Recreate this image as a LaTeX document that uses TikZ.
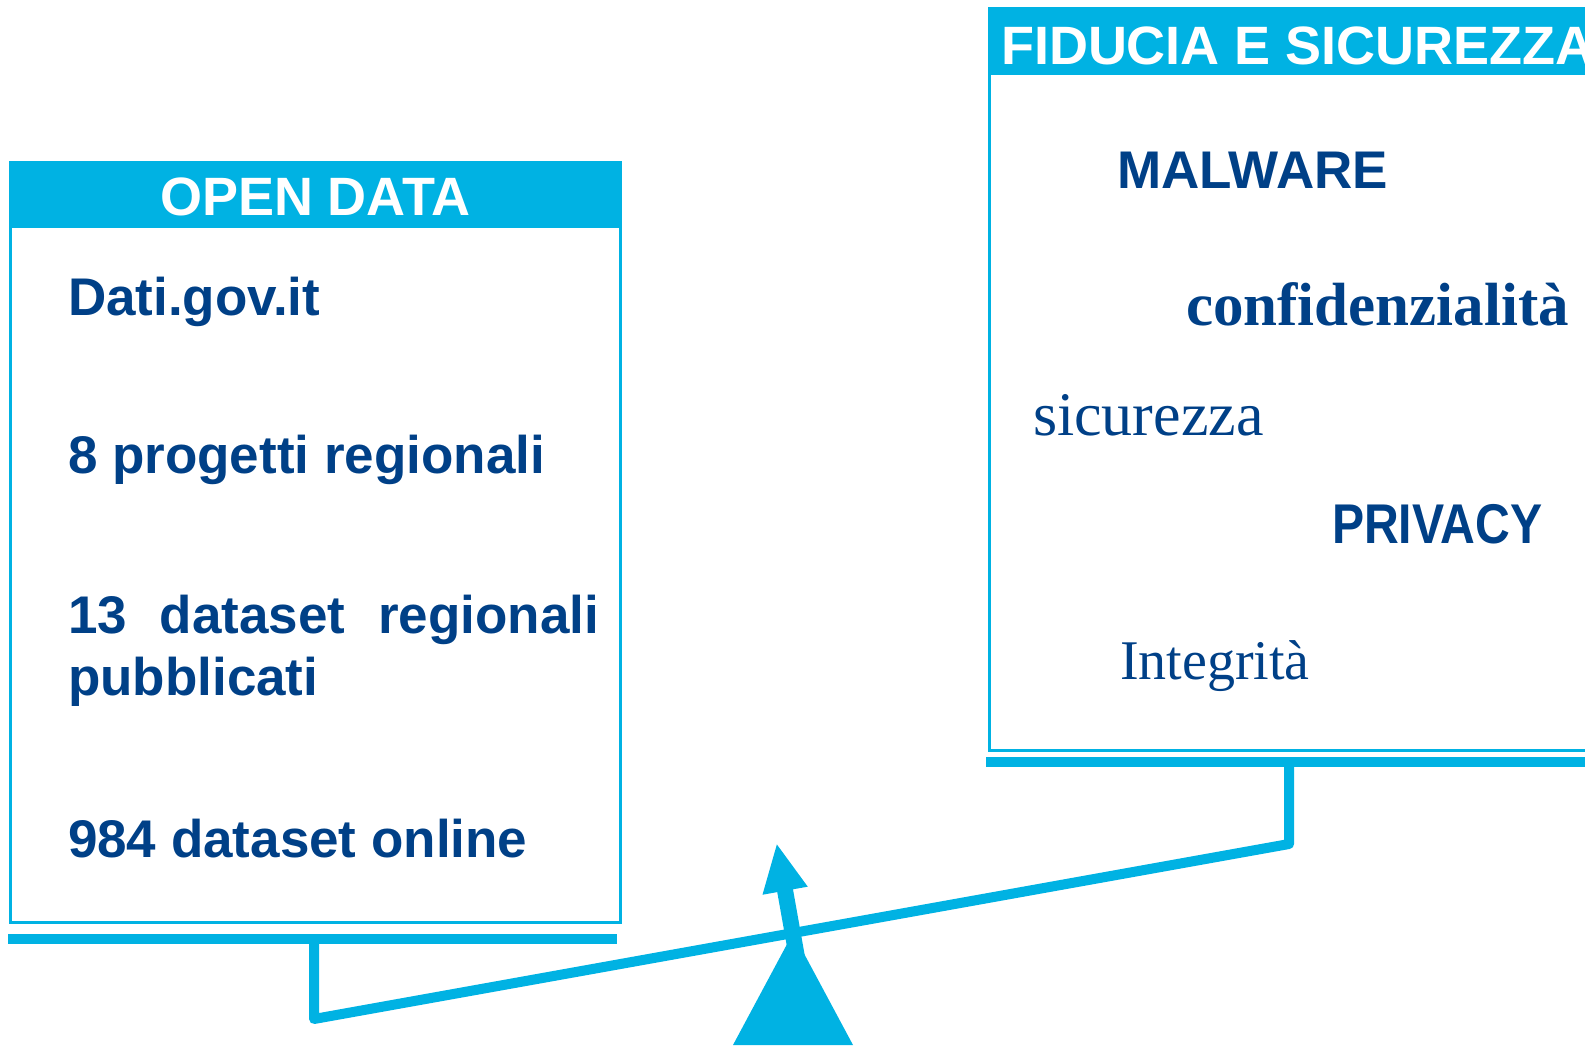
\documentclass[tikz,border=0pt]{standalone}
\usepackage{fontspec}
\setmainfont{Liberation Sans}
\newfontfamily\serifrm{Liberation Serif}
\newfontfamily\privfont[FakeStretch=0.86]{Liberation Sans}
\definecolor{cyanbar}{RGB}{0,178,227}
\definecolor{navy}{RGB}{0,64,135}
\begin{document}
\begin{tikzpicture}[x=1pt,y=-1pt,
  lbl/.style={text=navy, inner sep=0pt, outer sep=0pt, anchor=base west, font=\fontsize{53}{62}\selectfont\bfseries},
  hdrtext/.style={text=white, inner sep=0pt, outer sep=0pt, font=\fontsize{54}{62}\selectfont\bfseries},
  frame/.style={draw=cyanbar, line width=3pt, inner sep=0pt, outer sep=0pt, anchor=north west},
  hdrbox/.style={fill=cyanbar, inner sep=0pt, outer sep=0pt, anchor=north west},
  barbox/.style={fill=cyanbar, inner sep=0pt, outer sep=0pt, anchor=north west},
  beam/.style={draw=cyanbar, line width=10pt, line join=round, line cap=round}]
\useasboundingbox (0,0) rectangle (1585,1045);
\clip (0,0) rectangle (1585,1045);

% left box
\node[frame, minimum width=610pt, minimum height=760pt] (lbox) at (10,162) {};
\node[hdrbox, minimum width=610pt, minimum height=66pt] (lhdr) at (10,162) {};
\node[hdrtext, anchor=base] (lhdrtext) at (315,215) {OPEN DATA};
\node[barbox, minimum width=609pt, minimum height=10pt] (lbar) at (8,934) {};

% right box
\node[frame, minimum width=621pt, minimum height=742pt] (rbox) at (989,8) {};
\node[hdrbox, minimum width=621pt, minimum height=67pt] (rhdr) at (989,8) {};
\node[hdrtext, anchor=base west] (rhdrtext) at (1001,64) {FIDUCIA E SICUREZZA};
\node[barbox, minimum width=620pt, minimum height=10pt] (rbar) at (986,757) {};

% left texts
\node[lbl] (t1) at (68,315) {Dati.gov.it};
\node[lbl] (t2) at (68,473) {8 progetti regionali};
\node[lbl] (t3) at (68,633) {\hbox to 531pt{13\hfill dataset\hfill regionali}};
\node[lbl] (t4) at (68,695) {pubblicati};
\node[lbl] (t5) at (68,857) {984 dataset online};

% right texts
\node[lbl] (r1) at (1117,188) {MALWARE};
\node[lbl, font=\serifrm\fontsize{61}{70}\selectfont\bfseries] (r2) at (1186,325) {confidenzialità};
\node[lbl, font=\serifrm\fontsize{62}{70}\selectfont] (r3) at (1033,435) {sicurezza};
\node[lbl, font=\privfont\fontsize{56}{64}\selectfont\bfseries] (r4) at (1332,543) {PRIVACY};
\node[lbl, font=\serifrm\fontsize{56}{64}\selectfont] (r5) at (1120,679) {Integrità};

% balance
\coordinate (lend) at (314,1019);
\coordinate (rend) at (1289,844);
\coordinate (pivot) at (793,935);
\draw[beam] (lbar.south -| lend) -- (lend) -- (rend) -- (rbar.south -| rend);
\fill[cyanbar] (793,933) -- (733,1045) -- (853,1045) -- cycle;
\begin{scope}[shift={(pivot)}, rotate=10.1]
  \fill[cyanbar] (-8,22) -- (-8,-45) -- (-23,-45) -- (0,-92) -- (23,-45) -- (8,-45) -- (8,22) -- cycle;
\end{scope}
\end{tikzpicture}
\end{document}
